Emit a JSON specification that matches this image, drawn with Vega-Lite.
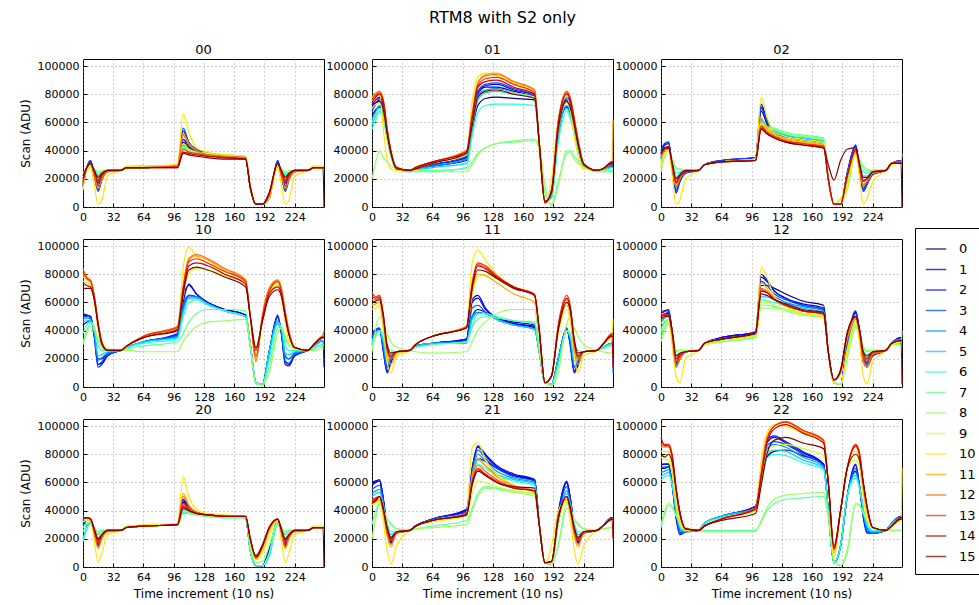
{
"$schema":"https://vega.github.io/schema/vega-lite/v6.json",
"title":{"text":"RTM8 with S2 only","fontSize":16,"offset":18,"anchor":"middle"},
"padding":{"left":18,"top":9,"right":5,"bottom":5},
"data":{"values":[
{"p":"00","t":0,"0":18,"1":16,"2":15,"3":14,"4":18,"5":20,"6":22,"7":22,"8":24,"9":18,"10":12,"11":16,"12":16,"13":18,"14":20,"15":22},
{"p":"00","t":4,"0":28,"1":28,"2":28,"3":28,"4":28,"5":28,"6":27,"7":27,"8":27,"9":28,"10":26,"11":28,"12":28,"13":28,"14":28,"15":28},
{"p":"00","t":8,"0":31,"1":32,"2":33,"3":33,"4":31,"5":30,"6":30,"7":30,"8":29,"9":30,"10":28,"11":31,"12":31,"13":31,"14":31,"15":31},
{"p":"00","t":12,"0":24,"1":24,"2":22,"3":22,"4":25,"5":26,"6":26,"7":27,"8":27,"9":25,"10":15,"11":22,"12":22,"13":24,"14":25,"15":26},
{"p":"00","t":16,"0":17,"1":15,"2":12,"3":11,"4":19,"5":22,"6":23,"7":24,"8":25,"9":20,"10":2,"11":13,"12":13,"13":18,"14":19,"15":21},
{"p":"00","t":20,"0":22,"1":21,"2":20,"3":19,"4":23,"5":24,"6":25,"7":25,"8":26,"9":23,"10":5,"11":20,"12":20,"13":22,"14":23,"15":24},
{"p":"00","t":26,"0":26,"1":26,"2":25,"3":25,"4":26,"5":26,"6":26,"7":26,"8":26,"9":26,"10":22,"11":25,"12":25,"13":26,"14":26,"15":26},
{"p":"00","t":40,"0":26,"1":26,"2":26,"3":26,"4":26,"5":26,"6":26,"7":26,"8":26,"9":26,"10":26,"11":26,"12":26,"13":26,"14":26,"15":26},
{"p":"00","t":46,"0":28,"1":28,"2":28,"3":28,"4":28,"5":28,"6":28,"7":28,"8":28,"9":28,"10":29,"11":28,"12":28,"13":28,"14":28,"15":28},
{"p":"00","t":64,"0":28,"1":28,"2":28,"3":28,"4":28,"5":29,"6":29,"7":29,"8":29,"9":29,"10":29,"11":28,"12":28,"13":28,"14":28,"15":28},
{"p":"00","t":100,"0":29,"1":29,"2":29,"3":29,"4":29,"5":29,"6":29,"7":29,"8":29,"9":29,"10":30,"11":29,"12":29,"13":29,"14":28,"15":28},
{"p":"00","t":106,"0":46,"1":48,"2":54,"3":56,"4":44,"5":44,"6":43,"7":42,"8":42,"9":45,"10":66,"11":52,"12":51,"13":41,"14":39,"15":38},
{"p":"00","t":112,"0":42,"1":43,"2":45,"3":46,"4":41,"5":41,"6":40,"7":40,"8":40,"9":41,"10":53,"11":45,"12":44,"13":39,"14":38,"15":37},
{"p":"00","t":120,"0":39,"1":39,"2":40,"3":41,"4":39,"5":39,"6":38,"7":38,"8":38,"9":39,"10":42,"11":40,"12":40,"13":38,"14":37,"15":36},
{"p":"00","t":132,"0":37,"1":37,"2":38,"3":38,"4":37,"5":38,"6":38,"7":38,"8":38,"9":38,"10":39,"11":37,"12":37,"13":36,"14":36,"15":35},
{"p":"00","t":150,"0":36,"1":36,"2":36,"3":36,"4":36,"5":37,"6":37,"7":37,"8":37,"9":37,"10":37,"11":36,"12":36,"13":35,"14":35,"15":34},
{"p":"00","t":172,"0":35,"1":35,"2":35,"3":35,"4":35,"5":36,"6":36,"7":36,"8":36,"9":36,"10":36,"11":35,"12":35,"13":34,"14":34,"15":34},
{"p":"00","t":177,"0":14,"1":14,"2":14,"3":14,"4":14,"5":15,"6":15,"7":15,"8":15,"9":15,"10":15,"11":14,"12":14,"13":14,"14":14,"15":14},
{"p":"00","t":183,"0":2,"1":2,"2":2,"3":2,"4":2,"5":2,"6":2,"7":2,"8":2,"9":2,"10":2,"11":2,"12":2,"13":2,"14":2,"15":2},
{"p":"00","t":190,"0":2,"1":2,"2":2,"3":2,"4":2,"5":2,"6":2,"7":2,"8":2,"9":2,"10":2,"11":2,"12":2,"13":2,"14":2,"15":2},
{"p":"00","t":197,"0":8,"1":7,"2":6,"3":6,"4":8,"5":8,"6":8,"7":8,"8":8,"9":8,"10":6,"11":8,"12":8,"13":9,"14":10,"15":10},
{"p":"00","t":206,"0":31,"1":32,"2":33,"3":33,"4":31,"5":30,"6":30,"7":30,"8":29,"9":30,"10":28,"11":31,"12":31,"13":31,"14":31,"15":31},
{"p":"00","t":210,"0":24,"1":24,"2":22,"3":22,"4":25,"5":26,"6":26,"7":27,"8":27,"9":25,"10":15,"11":22,"12":22,"13":24,"14":25,"15":26},
{"p":"00","t":214,"0":17,"1":15,"2":12,"3":11,"4":19,"5":22,"6":23,"7":24,"8":25,"9":20,"10":2,"11":13,"12":13,"13":18,"14":19,"15":21},
{"p":"00","t":218,"0":22,"1":21,"2":20,"3":19,"4":23,"5":24,"6":25,"7":25,"8":26,"9":23,"10":5,"11":20,"12":20,"13":22,"14":23,"15":24},
{"p":"00","t":224,"0":26,"1":26,"2":25,"3":25,"4":26,"5":26,"6":26,"7":26,"8":26,"9":26,"10":22,"11":25,"12":25,"13":26,"14":26,"15":26},
{"p":"00","t":238,"0":26,"1":26,"2":26,"3":26,"4":26,"5":26,"6":26,"7":26,"8":26,"9":26,"10":26,"11":26,"12":26,"13":26,"14":26,"15":26},
{"p":"00","t":244,"0":28,"1":28,"2":28,"3":28,"4":28,"5":28,"6":28,"7":28,"8":28,"9":28,"10":29,"11":28,"12":28,"13":28,"14":28,"15":28},
{"p":"00","t":254,"0":28,"1":28,"2":28,"3":28,"4":28,"5":28,"6":28,"7":28,"8":28,"9":28,"10":29,"11":28,"12":28,"13":28,"14":28,"15":28},
{"p":"00","t":255,"0":28,"1":28,"2":28,"3":28,"4":28,"5":28,"6":28,"7":28,"8":28,"9":28,"10":29,"11":28,"12":28,"13":28,"14":28,"15":0},
{"p":"01","t":0,"0":65,"1":70,"2":72,"3":68,"4":62,"5":58,"6":55,"7":60,"8":20,"9":70,"10":75,"11":78,"12":77,"13":76,"14":74,"15":72},
{"p":"01","t":4,"0":69,"1":74,"2":76,"3":73,"4":68,"5":65,"6":62,"7":66,"8":32,"9":73,"10":79,"11":81,"12":80,"13":79,"14":78,"15":74},
{"p":"01","t":8,"0":71,"1":76,"2":78,"3":77,"4":72,"5":70,"6":68,"7":70,"8":40,"9":74,"10":80,"11":82,"12":82,"13":81,"14":80,"15":75},
{"p":"01","t":12,"0":65,"1":70,"2":72,"3":71,"4":66,"5":64,"6":62,"7":64,"8":35,"9":68,"10":55,"11":76,"12":76,"13":75,"14":74,"15":69},
{"p":"01","t":16,"0":50,"1":53,"2":54,"3":54,"4":51,"5":49,"6":48,"7":49,"8":32,"9":52,"10":34,"11":56,"12":56,"13":55,"14":54,"15":52},
{"p":"01","t":20,"0":37,"1":38,"2":39,"3":39,"4":38,"5":37,"6":36,"7":37,"8":29,"9":38,"10":27,"11":40,"12":40,"13":40,"14":39,"15":38},
{"p":"01","t":26,"0":27,"1":27,"2":27,"3":27,"4":27,"5":27,"6":27,"7":27,"8":27,"9":27,"10":26,"11":28,"12":28,"13":28,"14":28,"15":27},
{"p":"01","t":40,"0":26,"1":26,"2":26,"3":26,"4":26,"5":25,"6":25,"7":26,"8":26,"9":26,"10":26,"11":26,"12":26,"13":26,"14":26,"15":26},
{"p":"01","t":46,"0":27,"1":27,"2":27,"3":27,"4":27,"5":26,"6":25,"7":26,"8":26,"9":27,"10":27,"11":28,"12":28,"13":28,"14":28,"15":27},
{"p":"01","t":64,"0":29,"1":30,"2":30,"3":30,"4":29,"5":28,"6":25,"7":26,"8":25,"9":31,"10":31,"11":32,"12":32,"13":32,"14":32,"15":31},
{"p":"01","t":100,"0":33,"1":35,"2":36,"3":36,"4":34,"5":31,"6":28,"7":27,"8":25,"9":37,"10":38,"11":40,"12":40,"13":39,"14":39,"15":38},
{"p":"01","t":106,"0":55,"1":60,"2":62,"3":62,"4":58,"5":55,"6":50,"7":32,"8":30,"9":60,"10":75,"11":66,"12":66,"13":64,"14":63,"15":58},
{"p":"01","t":112,"0":72,"1":80,"2":82,"3":82,"4":79,"5":76,"6":67,"7":38,"8":37,"9":78,"10":92,"11":88,"12":88,"13":86,"14":85,"15":78},
{"p":"01","t":120,"0":77,"1":85,"2":86,"3":87,"4":83,"5":81,"6":72,"7":42,"8":42,"9":82,"10":95,"11":94,"12":93,"13":91,"14":89,"15":82},
{"p":"01","t":132,"0":78,"1":85,"2":87,"3":88,"4":84,"5":82,"6":73,"7":45,"8":45,"9":83,"10":93,"11":95,"12":94,"13":92,"14":90,"15":83},
{"p":"01","t":150,"0":77,"1":82,"2":83,"3":84,"4":81,"5":80,"6":73,"7":46,"8":47,"9":81,"10":88,"11":89,"12":89,"13":87,"14":85,"15":80},
{"p":"01","t":172,"0":76,"1":78,"2":79,"3":79,"4":78,"5":77,"6":72,"7":47,"8":48,"9":78,"10":82,"11":83,"12":83,"13":81,"14":80,"15":77},
{"p":"01","t":177,"0":45,"1":45,"2":45,"3":45,"4":45,"5":45,"6":45,"7":40,"8":44,"9":45,"10":40,"11":45,"12":45,"13":45,"14":45,"15":45},
{"p":"01","t":183,"0":4,"1":4,"2":4,"3":4,"4":4,"5":4,"6":4,"7":10,"8":15,"9":4,"10":3,"11":3,"12":3,"13":3,"14":3,"15":4},
{"p":"01","t":190,"0":8,"1":8,"2":8,"3":8,"4":8,"5":8,"6":6,"7":2,"8":1,"9":10,"10":20,"11":12,"12":12,"13":12,"14":12,"15":10},
{"p":"01","t":197,"0":50,"1":55,"2":55,"3":55,"4":52,"5":50,"6":45,"7":18,"8":15,"9":55,"10":62,"11":60,"12":60,"13":60,"14":58,"15":55},
{"p":"01","t":206,"0":71,"1":76,"2":78,"3":77,"4":72,"5":70,"6":68,"7":38,"8":40,"9":74,"10":78,"11":82,"12":82,"13":81,"14":80,"15":75},
{"p":"01","t":210,"0":66,"1":71,"2":73,"3":72,"4":67,"5":65,"6":62,"7":40,"8":38,"9":69,"10":68,"11":77,"12":77,"13":76,"14":75,"15":70},
{"p":"01","t":214,"0":55,"1":58,"2":60,"3":59,"4":56,"5":54,"6":52,"7":36,"8":34,"9":57,"10":50,"11":63,"12":63,"13":62,"14":61,"15":58},
{"p":"01","t":218,"0":42,"1":44,"2":45,"3":45,"4":43,"5":42,"6":41,"7":33,"8":31,"9":44,"10":36,"11":48,"12":48,"13":47,"14":46,"15":44},
{"p":"01","t":224,"0":29,"1":30,"2":30,"3":30,"4":29,"5":29,"6":29,"7":29,"8":28,"9":30,"10":27,"11":31,"12":31,"13":31,"14":30,"15":30},
{"p":"01","t":238,"0":26,"1":26,"2":26,"3":26,"4":26,"5":26,"6":25,"7":26,"8":26,"9":26,"10":26,"11":26,"12":26,"13":26,"14":26,"15":26},
{"p":"01","t":244,"0":27,"1":27,"2":27,"3":27,"4":27,"5":26,"6":25,"7":26,"8":26,"9":27,"10":27,"11":27,"12":27,"13":27,"14":27,"15":27},
{"p":"01","t":254,"0":29,"1":30,"2":30,"3":30,"4":29,"5":28,"6":25,"7":26,"8":25,"9":31,"10":31,"11":32,"12":32,"13":32,"14":32,"15":31},
{"p":"01","t":255,"0":29,"1":30,"2":30,"3":30,"4":29,"5":28,"6":25,"7":26,"8":25,"9":31,"10":31,"11":62,"12":32,"13":32,"14":32,"15":31},
{"p":"02","t":0,"0":35,"1":38,"2":40,"3":40,"4":35,"5":32,"6":30,"7":28,"8":25,"9":30,"10":28,"11":35,"12":36,"13":37,"14":38,"15":38},
{"p":"02","t":4,"0":42,"1":44,"2":45,"3":45,"4":42,"5":40,"6":38,"7":37,"8":36,"9":38,"10":38,"11":41,"12":41,"13":41,"14":42,"15":42},
{"p":"02","t":8,"0":42,"1":45,"2":46,"3":46,"4":42,"5":41,"6":40,"7":40,"8":40,"9":40,"10":40,"11":42,"12":42,"13":42,"14":43,"15":42},
{"p":"02","t":12,"0":28,"1":28,"2":28,"3":28,"4":30,"5":31,"6":32,"7":34,"8":34,"9":30,"10":21,"11":28,"12":28,"13":30,"14":30,"15":31},
{"p":"02","t":16,"0":14,"1":12,"2":10,"3":11,"4":17,"5":21,"6":24,"7":27,"8":28,"9":20,"10":2,"11":14,"12":15,"13":17,"14":18,"15":20},
{"p":"02","t":20,"0":20,"1":19,"2":18,"3":18,"4":22,"5":24,"6":25,"7":27,"8":27,"9":23,"10":5,"11":20,"12":20,"13":22,"14":22,"15":23},
{"p":"02","t":26,"0":25,"1":25,"2":24,"3":24,"4":25,"5":26,"6":26,"7":26,"8":26,"9":25,"10":20,"11":25,"12":25,"13":25,"14":25,"15":26},
{"p":"02","t":40,"0":26,"1":26,"2":26,"3":26,"4":26,"5":26,"6":26,"7":26,"8":26,"9":26,"10":26,"11":26,"12":26,"13":26,"14":26,"15":26},
{"p":"02","t":46,"0":30,"1":30,"2":30,"3":30,"4":30,"5":30,"6":30,"7":30,"8":30,"9":30,"10":30,"11":30,"12":30,"13":30,"14":30,"15":30},
{"p":"02","t":64,"0":32,"1":33,"2":33,"3":33,"4":32,"5":32,"6":32,"7":32,"8":32,"9":32,"10":32,"11":32,"12":32,"13":32,"14":32,"15":32},
{"p":"02","t":100,"0":34,"1":35,"2":35,"3":35,"4":34,"5":34,"6":34,"7":34,"8":34,"9":34,"10":34,"11":33,"12":33,"13":33,"14":33,"15":33},
{"p":"02","t":106,"0":68,"1":71,"2":73,"3":70,"4":62,"5":61,"6":60,"7":58,"8":57,"9":59,"10":78,"11":63,"12":58,"13":57,"14":56,"15":55},
{"p":"02","t":112,"0":59,"1":61,"2":62,"3":61,"4":57,"5":57,"6":57,"7":57,"8":56,"9":56,"10":64,"11":56,"12":54,"13":53,"14":52,"15":52},
{"p":"02","t":120,"0":52,"1":53,"2":53,"3":53,"4":53,"5":54,"6":55,"7":56,"8":55,"9":53,"10":52,"11":51,"12":50,"13":50,"14":49,"15":49},
{"p":"02","t":132,"0":49,"1":50,"2":50,"3":50,"4":50,"5":51,"6":52,"7":53,"8":52,"9":50,"10":49,"11":48,"12":47,"13":47,"14":46,"15":46},
{"p":"02","t":150,"0":47,"1":48,"2":48,"3":48,"4":48,"5":49,"6":50,"7":51,"8":50,"9":48,"10":47,"11":46,"12":45,"13":45,"14":44,"15":44},
{"p":"02","t":172,"0":45,"1":46,"2":46,"3":46,"4":46,"5":47,"6":48,"7":49,"8":48,"9":46,"10":45,"11":44,"12":43,"13":43,"14":42,"15":42},
{"p":"02","t":177,"0":20,"1":20,"2":20,"3":20,"4":20,"5":20,"6":20,"7":20,"8":20,"9":20,"10":20,"11":20,"12":20,"13":20,"14":20,"15":30},
{"p":"02","t":183,"0":2,"1":2,"2":2,"3":2,"4":2,"5":2,"6":2,"7":2,"8":2,"9":2,"10":2,"11":2,"12":2,"13":2,"14":2,"15":19},
{"p":"02","t":190,"0":2,"1":2,"2":2,"3":2,"4":2,"5":2,"6":2,"7":2,"8":6,"9":6,"10":2,"11":2,"12":2,"13":2,"14":2,"15":33},
{"p":"02","t":197,"0":22,"1":24,"2":24,"3":24,"4":22,"5":20,"6":18,"7":14,"8":12,"9":16,"10":14,"11":22,"12":22,"13":22,"14":22,"15":41},
{"p":"02","t":206,"0":40,"1":43,"2":44,"3":44,"4":40,"5":39,"6":38,"7":38,"8":38,"9":38,"10":38,"11":40,"12":40,"13":40,"14":41,"15":42},
{"p":"02","t":210,"0":28,"1":28,"2":28,"3":28,"4":30,"5":31,"6":32,"7":34,"8":34,"9":30,"10":21,"11":28,"12":28,"13":30,"14":30,"15":31},
{"p":"02","t":214,"0":15,"1":13,"2":11,"3":12,"4":18,"5":22,"6":25,"7":28,"8":29,"9":21,"10":2,"11":15,"12":16,"13":18,"14":19,"15":21},
{"p":"02","t":218,"0":18,"1":17,"2":16,"3":16,"4":20,"5":22,"6":24,"7":26,"8":27,"9":21,"10":6,"11":18,"12":18,"13":20,"14":20,"15":21},
{"p":"02","t":224,"0":24,"1":24,"2":23,"3":23,"4":25,"5":25,"6":26,"7":26,"8":26,"9":25,"10":18,"11":24,"12":24,"13":25,"14":25,"15":25},
{"p":"02","t":238,"0":26,"1":26,"2":26,"3":26,"4":26,"5":26,"6":26,"7":26,"8":26,"9":26,"10":26,"11":26,"12":26,"13":26,"14":26,"15":26},
{"p":"02","t":244,"0":31,"1":31,"2":31,"3":31,"4":31,"5":31,"6":30,"7":30,"8":30,"9":30,"10":30,"11":31,"12":31,"13":31,"14":31,"15":31},
{"p":"02","t":254,"0":32,"1":33,"2":33,"3":33,"4":32,"5":32,"6":32,"7":32,"8":32,"9":32,"10":32,"11":32,"12":32,"13":32,"14":31,"15":31},
{"p":"02","t":255,"0":32,"1":33,"2":33,"3":33,"4":32,"5":32,"6":32,"7":32,"8":38,"9":32,"10":32,"11":32,"12":32,"13":32,"14":31,"15":0},
{"p":"10","t":0,"0":44,"1":50,"2":52,"3":50,"4":48,"5":46,"6":38,"7":32,"8":30,"9":75,"10":78,"11":80,"12":84,"13":82,"14":74,"15":70},
{"p":"10","t":4,"0":46,"1":51,"2":51,"3":50,"4":49,"5":47,"6":44,"7":40,"8":38,"9":74,"10":76,"11":77,"12":78,"13":77,"14":72,"15":70},
{"p":"10","t":8,"0":47,"1":50,"2":50,"3":49,"4":48,"5":47,"6":46,"7":45,"8":43,"9":72,"10":74,"11":75,"12":76,"13":75,"14":71,"15":70},
{"p":"10","t":12,"0":38,"1":36,"2":35,"3":36,"4":38,"5":40,"6":42,"7":42,"8":40,"9":62,"10":60,"11":64,"12":65,"13":64,"14":62,"15":62},
{"p":"10","t":16,"0":20,"1":16,"2":14,"3":16,"4":19,"5":22,"6":30,"7":33,"8":34,"9":44,"10":40,"11":45,"12":46,"13":45,"14":44,"15":44},
{"p":"10","t":20,"0":20,"1":17,"2":16,"3":18,"4":21,"5":23,"6":26,"7":28,"8":30,"9":31,"10":28,"11":32,"12":32,"13":31,"14":30,"15":31},
{"p":"10","t":26,"0":24,"1":23,"2":22,"3":23,"4":24,"5":25,"6":26,"7":26,"8":27,"9":26,"10":26,"11":26,"12":26,"13":26,"14":26,"15":26},
{"p":"10","t":40,"0":26,"1":26,"2":26,"3":26,"4":26,"5":26,"6":26,"7":26,"8":26,"9":26,"10":26,"11":26,"12":26,"13":26,"14":26,"15":26},
{"p":"10","t":46,"0":28,"1":28,"2":28,"3":28,"4":28,"5":28,"6":28,"7":27,"8":26,"9":29,"10":29,"11":29,"12":29,"13":29,"14":29,"15":29},
{"p":"10","t":64,"0":32,"1":32,"2":32,"3":32,"4":32,"5":32,"6":31,"7":29,"8":25,"9":35,"10":36,"11":36,"12":36,"13":36,"14":35,"15":35},
{"p":"10","t":100,"0":36,"1":37,"2":38,"3":37,"4":36,"5":35,"6":34,"7":32,"8":25,"9":40,"10":42,"11":43,"12":43,"13":42,"14":41,"15":40},
{"p":"10","t":106,"0":55,"1":60,"2":65,"3":58,"4":55,"5":53,"6":50,"7":38,"8":32,"9":65,"10":85,"11":70,"12":72,"13":70,"14":68,"15":66},
{"p":"10","t":112,"0":65,"1":73,"2":72,"3":65,"4":64,"5":63,"6":60,"7":46,"8":38,"9":80,"10":99,"11":90,"12":91,"13":89,"14":86,"15":83},
{"p":"10","t":120,"0":64,"1":66,"2":66,"3":64,"4":64,"5":63,"6":62,"7":52,"8":43,"9":84,"10":93,"11":93,"12":94,"13":91,"14":88,"15":85},
{"p":"10","t":132,"0":60,"1":60,"2":60,"3":59,"4":59,"5":59,"6":58,"7":55,"8":46,"9":83,"10":88,"11":90,"12":91,"13":88,"14":86,"15":83},
{"p":"10","t":150,"0":55,"1":55,"2":55,"3":54,"4":54,"5":54,"6":54,"7":55,"8":47,"9":79,"10":80,"11":83,"12":84,"13":82,"14":80,"15":78},
{"p":"10","t":172,"0":51,"1":51,"2":51,"3":50,"4":50,"5":50,"6":50,"7":54,"8":48,"9":74,"10":74,"11":75,"12":76,"13":75,"14":73,"15":71},
{"p":"10","t":177,"0":30,"1":30,"2":30,"3":30,"4":30,"5":30,"6":28,"7":30,"8":30,"9":50,"10":50,"11":50,"12":50,"13":50,"14":50,"15":50},
{"p":"10","t":183,"0":3,"1":3,"2":3,"3":3,"4":3,"5":3,"6":2,"7":3,"8":3,"9":28,"10":22,"11":20,"12":18,"13":22,"14":26,"15":28},
{"p":"10","t":190,"0":2,"1":2,"2":2,"3":2,"4":2,"5":2,"6":2,"7":2,"8":1,"9":50,"10":48,"11":50,"12":52,"13":50,"14":48,"15":47},
{"p":"10","t":197,"0":25,"1":25,"2":25,"3":25,"4":25,"5":25,"6":20,"7":15,"8":10,"9":66,"10":66,"11":68,"12":70,"13":68,"14":66,"15":64},
{"p":"10","t":206,"0":45,"1":50,"2":51,"3":49,"4":47,"5":46,"6":45,"7":42,"8":38,"9":72,"10":74,"11":75,"12":76,"13":75,"14":71,"15":69},
{"p":"10","t":210,"0":40,"1":38,"2":37,"3":38,"4":40,"5":41,"6":42,"7":43,"8":42,"9":66,"10":64,"11":68,"12":70,"13":68,"14":66,"15":64},
{"p":"10","t":214,"0":22,"1":18,"2":16,"3":18,"4":21,"5":24,"6":30,"7":34,"8":36,"9":52,"10":46,"11":52,"12":54,"13":52,"14":50,"15":50},
{"p":"10","t":218,"0":20,"1":16,"2":15,"3":17,"4":20,"5":23,"6":26,"7":29,"8":31,"9":38,"10":32,"11":38,"12":40,"13":38,"14":37,"15":37},
{"p":"10","t":224,"0":24,"1":23,"2":22,"3":23,"4":24,"5":25,"6":26,"7":27,"8":28,"9":28,"10":27,"11":28,"12":28,"13":28,"14":28,"15":28},
{"p":"10","t":238,"0":26,"1":26,"2":26,"3":26,"4":26,"5":26,"6":26,"7":26,"8":26,"9":26,"10":26,"11":26,"12":26,"13":26,"14":26,"15":26},
{"p":"10","t":244,"0":29,"1":29,"2":29,"3":29,"4":29,"5":29,"6":28,"7":27,"8":26,"9":30,"10":30,"11":30,"12":30,"13":30,"14":30,"15":30},
{"p":"10","t":254,"0":33,"1":33,"2":33,"3":33,"4":33,"5":33,"6":30,"7":29,"8":27,"9":35,"10":35,"11":36,"12":37,"13":36,"14":35,"15":35},
{"p":"10","t":255,"0":33,"1":33,"2":14,"3":33,"4":33,"5":33,"6":30,"7":29,"8":27,"9":35,"10":35,"11":36,"12":40,"13":36,"14":35,"15":35},
{"p":"11","t":0,"0":30,"1":35,"2":38,"3":36,"4":33,"5":32,"6":30,"7":28,"8":25,"9":58,"10":55,"11":58,"12":62,"13":67,"14":64,"15":60},
{"p":"11","t":4,"0":38,"1":40,"2":41,"3":40,"4":39,"5":38,"6":38,"7":36,"8":42,"9":58,"10":56,"11":59,"12":62,"13":64,"14":63,"15":61},
{"p":"11","t":8,"0":40,"1":41,"2":42,"3":41,"4":40,"5":40,"6":40,"7":40,"8":50,"9":58,"10":57,"11":60,"12":63,"13":65,"14":64,"15":62},
{"p":"11","t":12,"0":30,"1":26,"2":25,"3":27,"4":30,"5":32,"6":35,"7":38,"8":45,"9":45,"10":40,"11":46,"12":50,"13":52,"14":50,"15":50},
{"p":"11","t":16,"0":14,"1":11,"2":10,"3":12,"4":15,"5":18,"6":24,"7":30,"8":38,"9":28,"10":18,"11":22,"12":26,"13":28,"14":28,"15":30},
{"p":"11","t":20,"0":20,"1":18,"2":17,"3":19,"4":21,"5":23,"6":24,"7":26,"8":32,"9":22,"10":10,"11":16,"12":20,"13":21,"14":22,"15":24},
{"p":"11","t":26,"0":25,"1":25,"2":25,"3":25,"4":25,"5":25,"6":25,"7":25,"8":28,"9":25,"10":22,"11":24,"12":25,"13":25,"14":25,"15":25},
{"p":"11","t":40,"0":26,"1":26,"2":26,"3":26,"4":26,"5":26,"6":26,"7":26,"8":26,"9":26,"10":26,"11":26,"12":26,"13":26,"14":26,"15":26},
{"p":"11","t":46,"0":29,"1":29,"2":29,"3":29,"4":29,"5":29,"6":28,"7":28,"8":25,"9":30,"10":30,"11":30,"12":30,"13":30,"14":30,"15":30},
{"p":"11","t":64,"0":31,"1":31,"2":31,"3":31,"4":31,"5":31,"6":30,"7":30,"8":24,"9":36,"10":36,"11":36,"12":36,"13":36,"14":36,"15":36},
{"p":"11","t":100,"0":33,"1":34,"2":34,"3":33,"4":32,"5":31,"6":32,"7":32,"8":25,"9":42,"10":43,"11":42,"12":43,"13":42,"14":42,"15":42},
{"p":"11","t":106,"0":50,"1":60,"2":62,"3":56,"4":50,"5":48,"6":44,"7":42,"8":32,"9":65,"10":88,"11":68,"12":72,"13":74,"14":72,"15":70},
{"p":"11","t":112,"0":55,"1":63,"2":65,"3":58,"4":53,"5":52,"6":52,"7":48,"8":40,"9":78,"10":97,"11":80,"12":87,"13":88,"14":86,"15":83},
{"p":"11","t":120,"0":53,"1":55,"2":56,"3":53,"4":52,"5":52,"6":52,"7":50,"8":46,"9":80,"10":90,"11":79,"12":85,"13":86,"14":84,"15":82},
{"p":"11","t":132,"0":49,"1":49,"2":49,"3":48,"4":48,"5":48,"6":50,"7":49,"8":52,"9":77,"10":80,"11":74,"12":78,"13":79,"14":78,"15":77},
{"p":"11","t":150,"0":46,"1":45,"2":45,"3":44,"4":44,"5":44,"6":47,"7":47,"8":55,"9":71,"10":71,"11":66,"12":71,"13":71,"14":71,"15":70},
{"p":"11","t":172,"0":44,"1":43,"2":42,"3":41,"4":41,"5":41,"6":45,"7":46,"8":55,"9":65,"10":65,"11":60,"12":65,"13":66,"14":65,"15":65},
{"p":"11","t":177,"0":25,"1":25,"2":25,"3":25,"4":25,"5":25,"6":25,"7":25,"8":30,"9":40,"10":40,"11":40,"12":40,"13":40,"14":40,"15":40},
{"p":"11","t":183,"0":3,"1":3,"2":3,"3":3,"4":3,"5":3,"6":3,"7":3,"8":3,"9":3,"10":3,"11":3,"12":3,"13":3,"14":3,"15":3},
{"p":"11","t":190,"0":2,"1":2,"2":2,"3":2,"4":2,"5":2,"6":2,"7":2,"8":1,"9":8,"10":8,"11":8,"12":8,"13":8,"14":8,"15":8},
{"p":"11","t":197,"0":20,"1":20,"2":20,"3":20,"4":20,"5":20,"6":15,"7":15,"8":10,"9":40,"10":38,"11":40,"12":42,"13":44,"14":42,"15":40},
{"p":"11","t":206,"0":40,"1":41,"2":42,"3":41,"4":40,"5":40,"6":40,"7":40,"8":45,"9":58,"10":55,"11":58,"12":62,"13":65,"14":63,"15":60},
{"p":"11","t":210,"0":33,"1":30,"2":28,"3":30,"4":33,"5":35,"6":36,"7":38,"8":50,"9":52,"10":45,"11":50,"12":55,"13":57,"14":55,"15":54},
{"p":"11","t":214,"0":14,"1":11,"2":10,"3":12,"4":15,"5":18,"6":24,"7":30,"8":42,"9":30,"10":22,"11":26,"12":30,"13":32,"14":32,"15":34},
{"p":"11","t":218,"0":18,"1":16,"2":15,"3":17,"4":19,"5":22,"6":23,"7":26,"8":36,"9":22,"10":10,"11":16,"12":20,"13":21,"14":22,"15":24},
{"p":"11","t":224,"0":25,"1":25,"2":25,"3":25,"4":25,"5":25,"6":25,"7":25,"8":30,"9":25,"10":22,"11":25,"12":25,"13":25,"14":25,"15":25},
{"p":"11","t":238,"0":26,"1":26,"2":26,"3":26,"4":26,"5":26,"6":26,"7":26,"8":26,"9":26,"10":26,"11":26,"12":26,"13":26,"14":26,"15":26},
{"p":"11","t":244,"0":28,"1":28,"2":28,"3":28,"4":28,"5":28,"6":28,"7":27,"8":25,"9":30,"10":30,"11":30,"12":30,"13":30,"14":30,"15":30},
{"p":"11","t":254,"0":31,"1":31,"2":31,"3":31,"4":31,"5":31,"6":30,"7":29,"8":24,"9":36,"10":36,"11":36,"12":37,"13":38,"14":37,"15":36},
{"p":"11","t":255,"0":31,"1":31,"2":31,"3":31,"4":10,"5":31,"6":30,"7":29,"8":24,"9":36,"10":48,"11":36,"12":37,"13":38,"14":14,"15":36},
{"p":"12","t":0,"0":50,"1":52,"2":53,"3":50,"4":46,"5":42,"6":38,"7":35,"8":32,"9":40,"10":45,"11":48,"12":52,"13":55,"14":50,"15":48},
{"p":"12","t":4,"0":52,"1":54,"2":54,"3":52,"4":49,"5":46,"6":44,"7":42,"8":40,"9":44,"10":47,"11":50,"12":51,"13":52,"14":51,"15":50},
{"p":"12","t":8,"0":52,"1":54,"2":55,"3":53,"4":50,"5":48,"6":46,"7":45,"8":44,"9":46,"10":48,"11":50,"12":51,"13":51,"14":51,"15":50},
{"p":"12","t":12,"0":38,"1":38,"2":38,"3":38,"4":38,"5":38,"6":38,"7":38,"8":38,"9":36,"10":28,"11":35,"12":36,"13":38,"14":39,"15":39},
{"p":"12","t":16,"0":17,"1":15,"2":14,"3":16,"4":19,"5":21,"6":23,"7":25,"8":26,"9":20,"10":8,"11":14,"12":15,"13":18,"14":20,"15":22},
{"p":"12","t":20,"0":22,"1":20,"2":20,"3":21,"4":22,"5":24,"6":24,"7":26,"8":26,"9":23,"10":3,"11":20,"12":20,"13":22,"14":23,"15":24},
{"p":"12","t":26,"0":25,"1":25,"2":25,"3":25,"4":25,"5":25,"6":26,"7":26,"8":26,"9":25,"10":20,"11":25,"12":25,"13":25,"14":25,"15":25},
{"p":"12","t":40,"0":26,"1":26,"2":26,"3":26,"4":26,"5":26,"6":26,"7":26,"8":26,"9":26,"10":26,"11":26,"12":26,"13":26,"14":26,"15":26},
{"p":"12","t":46,"0":31,"1":31,"2":31,"3":31,"4":31,"5":31,"6":30,"7":30,"8":30,"9":30,"10":31,"11":31,"12":31,"13":31,"14":31,"15":31},
{"p":"12","t":64,"0":35,"1":35,"2":35,"3":34,"4":34,"5":34,"6":33,"7":32,"8":32,"9":33,"10":34,"11":34,"12":34,"13":34,"14":34,"15":34},
{"p":"12","t":100,"0":39,"1":39,"2":39,"3":38,"4":38,"5":37,"6":36,"7":35,"8":35,"9":36,"10":37,"11":38,"12":38,"13":38,"14":38,"15":38},
{"p":"12","t":106,"0":72,"1":78,"2":80,"3":75,"4":68,"5":64,"6":62,"7":58,"8":56,"9":60,"10":85,"11":74,"12":70,"13":69,"14":68,"15":66},
{"p":"12","t":112,"0":72,"1":75,"2":76,"3":72,"4":67,"5":64,"6":61,"7":58,"8":56,"9":60,"10":78,"11":70,"12":68,"13":67,"14":67,"15":65},
{"p":"12","t":120,"0":70,"1":68,"2":68,"3":66,"4":64,"5":62,"6":60,"7":57,"8":56,"9":58,"10":64,"11":63,"12":62,"13":62,"14":62,"15":62},
{"p":"12","t":132,"0":66,"1":63,"2":63,"3":62,"4":60,"5":59,"6":57,"7":55,"8":54,"9":55,"10":57,"11":58,"12":58,"13":58,"14":58,"15":59},
{"p":"12","t":150,"0":61,"1":59,"2":58,"3":58,"4":57,"5":56,"6":54,"7":52,"8":51,"9":52,"10":52,"11":54,"12":54,"13":54,"14":54,"15":55},
{"p":"12","t":172,"0":58,"1":56,"2":55,"3":55,"4":54,"5":53,"6":52,"7":50,"8":49,"9":50,"10":49,"11":51,"12":52,"13":52,"14":52,"15":53},
{"p":"12","t":177,"0":25,"1":25,"2":25,"3":25,"4":25,"5":25,"6":25,"7":25,"8":25,"9":25,"10":25,"11":25,"12":25,"13":25,"14":25,"15":25},
{"p":"12","t":183,"0":3,"1":3,"2":3,"3":3,"4":3,"5":3,"6":3,"7":3,"8":3,"9":3,"10":3,"11":5,"12":5,"13":5,"14":5,"15":5},
{"p":"12","t":190,"0":2,"1":2,"2":2,"3":2,"4":2,"5":2,"6":2,"7":2,"8":2,"9":2,"10":2,"11":10,"12":10,"13":12,"14":12,"15":12},
{"p":"12","t":197,"0":30,"1":32,"2":32,"3":30,"4":28,"5":26,"6":24,"7":22,"8":20,"9":24,"10":26,"11":34,"12":36,"13":38,"14":38,"15":38},
{"p":"12","t":206,"0":50,"1":53,"2":54,"3":52,"4":49,"5":46,"6":44,"7":43,"8":42,"9":44,"10":46,"11":48,"12":49,"13":50,"14":50,"15":50},
{"p":"12","t":210,"0":40,"1":40,"2":40,"3":40,"4":40,"5":40,"6":40,"7":40,"8":40,"9":38,"10":32,"11":37,"12":38,"13":40,"14":41,"15":41},
{"p":"12","t":214,"0":21,"1":19,"2":18,"3":20,"4":22,"5":24,"6":26,"7":28,"8":29,"9":23,"10":8,"11":18,"12":19,"13":22,"14":24,"15":25},
{"p":"12","t":218,"0":17,"1":15,"2":14,"3":16,"4":19,"5":21,"6":23,"7":25,"8":26,"9":20,"10":2,"11":14,"12":15,"13":18,"14":20,"15":22},
{"p":"12","t":224,"0":24,"1":23,"2":22,"3":23,"4":24,"5":25,"6":25,"7":26,"8":26,"9":24,"10":18,"11":23,"12":23,"13":24,"14":25,"15":25},
{"p":"12","t":238,"0":26,"1":26,"2":26,"3":26,"4":26,"5":26,"6":26,"7":26,"8":26,"9":26,"10":26,"11":26,"12":26,"13":26,"14":26,"15":26},
{"p":"12","t":244,"0":31,"1":31,"2":31,"3":31,"4":31,"5":30,"6":30,"7":30,"8":30,"9":30,"10":31,"11":31,"12":31,"13":31,"14":31,"15":31},
{"p":"12","t":254,"0":35,"1":35,"2":35,"3":34,"4":34,"5":33,"6":32,"7":31,"8":30,"9":32,"10":33,"11":33,"12":33,"13":33,"14":33,"15":33},
{"p":"12","t":255,"0":35,"1":35,"2":35,"3":34,"4":34,"5":33,"6":32,"7":31,"8":40,"9":32,"10":33,"11":33,"12":33,"13":33,"14":2,"15":33},
{"p":"20","t":0,"0":30,"1":32,"2":33,"3":34,"4":30,"5":20,"6":18,"7":25,"8":28,"9":32,"10":34,"11":35,"12":35,"13":35,"14":34,"15":34},
{"p":"20","t":4,"0":33,"1":30,"2":29,"3":30,"4":30,"5":28,"6":27,"7":30,"8":31,"9":33,"10":34,"11":35,"12":35,"13":35,"14":35,"15":35},
{"p":"20","t":8,"0":33,"1":32,"2":32,"3":32,"4":32,"5":31,"6":31,"7":32,"8":32,"9":33,"10":33,"11":34,"12":34,"13":34,"14":34,"15":34},
{"p":"20","t":12,"0":25,"1":24,"2":24,"3":25,"4":26,"5":27,"6":28,"7":28,"8":28,"9":27,"10":18,"11":24,"12":24,"13":26,"14":26,"15":27},
{"p":"20","t":16,"0":17,"1":15,"2":16,"3":18,"4":20,"5":23,"6":25,"7":25,"8":24,"9":21,"10":3,"11":13,"12":14,"13":17,"14":19,"15":20},
{"p":"20","t":20,"0":22,"1":21,"2":22,"3":22,"4":23,"5":25,"6":26,"7":26,"8":25,"9":23,"10":10,"11":20,"12":21,"13":22,"14":23,"15":23},
{"p":"20","t":26,"0":26,"1":26,"2":26,"3":26,"4":26,"5":26,"6":26,"7":26,"8":26,"9":26,"10":23,"11":25,"12":25,"13":26,"14":26,"15":26},
{"p":"20","t":40,"0":26,"1":26,"2":26,"3":26,"4":26,"5":26,"6":26,"7":26,"8":26,"9":26,"10":26,"11":26,"12":26,"13":26,"14":26,"15":26},
{"p":"20","t":46,"0":28,"1":28,"2":28,"3":28,"4":28,"5":28,"6":28,"7":28,"8":28,"9":28,"10":29,"11":28,"12":28,"13":28,"14":28,"15":28},
{"p":"20","t":64,"0":29,"1":29,"2":29,"3":29,"4":29,"5":29,"6":29,"7":29,"8":29,"9":29,"10":30,"11":29,"12":29,"13":29,"14":29,"15":29},
{"p":"20","t":100,"0":30,"1":30,"2":30,"3":30,"4":30,"5":30,"6":30,"7":30,"8":30,"9":30,"10":31,"11":30,"12":30,"13":30,"14":30,"15":30},
{"p":"20","t":106,"0":46,"1":48,"2":47,"3":44,"4":41,"5":39,"6":38,"7":39,"8":40,"9":44,"10":64,"11":52,"12":50,"13":45,"14":43,"15":42},
{"p":"20","t":112,"0":42,"1":42,"2":42,"3":41,"4":39,"5":38,"6":38,"7":38,"8":39,"9":41,"10":50,"11":44,"12":43,"13":41,"14":40,"15":40},
{"p":"20","t":120,"0":38,"1":39,"2":38,"3":38,"4":38,"5":37,"6":37,"7":37,"8":37,"9":38,"10":41,"11":39,"12":39,"13":38,"14":38,"15":38},
{"p":"20","t":132,"0":37,"1":37,"2":37,"3":37,"4":36,"5":36,"6":36,"7":36,"8":36,"9":37,"10":38,"11":37,"12":37,"13":37,"14":37,"15":37},
{"p":"20","t":150,"0":36,"1":36,"2":36,"3":36,"4":36,"5":35,"6":35,"7":35,"8":35,"9":36,"10":37,"11":36,"12":36,"13":36,"14":36,"15":36},
{"p":"20","t":172,"0":35,"1":35,"2":35,"3":35,"4":35,"5":35,"6":35,"7":35,"8":35,"9":36,"10":36,"11":36,"12":36,"13":36,"14":36,"15":36},
{"p":"20","t":177,"0":12,"1":12,"2":12,"3":12,"4":12,"5":12,"6":12,"7":12,"8":15,"9":18,"10":20,"11":20,"12":20,"13":20,"14":20,"15":20},
{"p":"20","t":183,"0":1,"1":1,"2":1,"3":1,"4":1,"5":1,"6":1,"7":1,"8":3,"9":5,"10":6,"11":6,"12":6,"13":7,"14":7,"15":8},
{"p":"20","t":190,"0":1,"1":1,"2":1,"3":1,"4":1,"5":1,"6":1,"7":1,"8":4,"9":10,"10":12,"11":14,"12":14,"13":15,"14":15,"15":16},
{"p":"20","t":197,"0":12,"1":12,"2":12,"3":10,"4":8,"5":8,"6":8,"7":10,"8":15,"9":22,"10":25,"11":26,"12":27,"13":28,"14":28,"15":28},
{"p":"20","t":206,"0":33,"1":32,"2":32,"3":32,"4":32,"5":31,"6":31,"7":32,"8":32,"9":33,"10":33,"11":34,"12":34,"13":34,"14":34,"15":34},
{"p":"20","t":210,"0":25,"1":24,"2":24,"3":25,"4":26,"5":27,"6":28,"7":28,"8":28,"9":27,"10":18,"11":24,"12":24,"13":26,"14":26,"15":27},
{"p":"20","t":214,"0":17,"1":15,"2":16,"3":18,"4":20,"5":23,"6":25,"7":25,"8":24,"9":21,"10":3,"11":13,"12":14,"13":17,"14":19,"15":20},
{"p":"20","t":218,"0":22,"1":21,"2":22,"3":22,"4":23,"5":25,"6":26,"7":26,"8":25,"9":23,"10":10,"11":20,"12":21,"13":22,"14":23,"15":23},
{"p":"20","t":224,"0":26,"1":26,"2":26,"3":26,"4":26,"5":26,"6":26,"7":26,"8":26,"9":26,"10":23,"11":25,"12":25,"13":26,"14":26,"15":26},
{"p":"20","t":238,"0":26,"1":26,"2":26,"3":26,"4":26,"5":26,"6":26,"7":26,"8":26,"9":26,"10":26,"11":26,"12":26,"13":26,"14":26,"15":26},
{"p":"20","t":244,"0":28,"1":28,"2":28,"3":28,"4":28,"5":28,"6":28,"7":28,"8":28,"9":28,"10":29,"11":28,"12":28,"13":28,"14":28,"15":28},
{"p":"20","t":254,"0":28,"1":28,"2":28,"3":28,"4":28,"5":28,"6":28,"7":28,"8":28,"9":28,"10":29,"11":28,"12":28,"13":28,"14":28,"15":28},
{"p":"20","t":255,"0":28,"1":28,"2":28,"3":28,"4":28,"5":28,"6":28,"7":28,"8":28,"9":28,"10":29,"11":28,"12":28,"13":28,"14":28,"15":0},
{"p":"21","t":0,"0":58,"1":60,"2":60,"3":55,"4":52,"5":50,"6":45,"7":30,"8":20,"9":44,"10":45,"11":46,"12":48,"13":47,"14":46,"15":45},
{"p":"21","t":4,"0":60,"1":61,"2":61,"3":57,"4":54,"5":52,"6":48,"7":40,"8":35,"9":45,"10":46,"11":47,"12":49,"13":49,"14":48,"15":47},
{"p":"21","t":8,"0":61,"1":62,"2":61,"3":58,"4":55,"5":53,"6":50,"7":45,"8":45,"9":46,"10":47,"11":48,"12":50,"13":50,"14":50,"15":50},
{"p":"21","t":12,"0":48,"1":48,"2":48,"3":46,"4":45,"5":44,"6":42,"7":41,"8":40,"9":38,"10":32,"11":38,"12":40,"13":41,"14":41,"15":41},
{"p":"21","t":16,"0":28,"1":28,"2":28,"3":28,"4":29,"5":30,"6":31,"7":34,"8":34,"9":27,"10":12,"11":22,"12":24,"13":27,"14":27,"15":28},
{"p":"21","t":20,"0":18,"1":17,"2":17,"3":19,"4":21,"5":23,"6":25,"7":31,"8":30,"9":21,"10":2,"11":14,"12":16,"13":19,"14":20,"15":21},
{"p":"21","t":26,"0":24,"1":24,"2":24,"3":24,"4":25,"5":25,"6":25,"7":27,"8":27,"9":25,"10":15,"11":24,"12":24,"13":25,"14":25,"15":25},
{"p":"21","t":40,"0":26,"1":26,"2":26,"3":26,"4":26,"5":26,"6":26,"7":26,"8":26,"9":26,"10":26,"11":26,"12":26,"13":26,"14":26,"15":26},
{"p":"21","t":46,"0":29,"1":29,"2":29,"3":29,"4":29,"5":29,"6":29,"7":27,"8":27,"9":29,"10":29,"11":29,"12":29,"13":29,"14":29,"15":29},
{"p":"21","t":64,"0":34,"1":34,"2":34,"3":34,"4":33,"5":33,"6":33,"7":29,"8":28,"9":32,"10":33,"11":33,"12":33,"13":33,"14":33,"15":33},
{"p":"21","t":100,"0":40,"1":41,"2":40,"3":39,"4":38,"5":37,"6":36,"7":33,"8":30,"9":36,"10":38,"11":38,"12":38,"13":38,"14":37,"15":37},
{"p":"21","t":106,"0":62,"1":70,"2":70,"3":68,"4":65,"5":62,"6":60,"7":42,"8":40,"9":52,"10":85,"11":65,"12":62,"13":60,"14":60,"15":58},
{"p":"21","t":112,"0":77,"1":86,"2":85,"3":83,"4":80,"5":76,"6":73,"7":52,"8":50,"9":61,"10":88,"11":77,"12":72,"13":70,"14":69,"15":68},
{"p":"21","t":120,"0":75,"1":80,"2":79,"3":77,"4":75,"5":72,"6":70,"7":57,"8":56,"9":60,"10":76,"11":72,"12":68,"13":66,"14":65,"15":65},
{"p":"21","t":132,"0":70,"1":72,"2":71,"3":70,"4":68,"5":66,"6":65,"7":56,"8":55,"9":57,"10":66,"11":64,"12":62,"13":61,"14":60,"15":60},
{"p":"21","t":150,"0":65,"1":66,"2":65,"3":64,"4":63,"5":62,"6":61,"7":54,"8":53,"9":54,"10":58,"11":58,"12":57,"13":56,"14":56,"15":57},
{"p":"21","t":172,"0":61,"1":62,"2":62,"3":61,"4":60,"5":59,"6":58,"7":52,"8":50,"9":51,"10":52,"11":53,"12":54,"13":54,"14":54,"15":56},
{"p":"21","t":177,"0":30,"1":30,"2":30,"3":30,"4":30,"5":30,"6":30,"7":30,"8":30,"9":30,"10":30,"11":30,"12":30,"13":30,"14":30,"15":30},
{"p":"21","t":183,"0":3,"1":3,"2":3,"3":3,"4":3,"5":3,"6":3,"7":3,"8":3,"9":3,"10":3,"11":3,"12":3,"13":3,"14":3,"15":3},
{"p":"21","t":190,"0":2,"1":2,"2":2,"3":2,"4":2,"5":2,"6":2,"7":2,"8":2,"9":2,"10":15,"11":4,"12":4,"13":4,"14":4,"15":4},
{"p":"21","t":197,"0":35,"1":38,"2":38,"3":36,"4":34,"5":32,"6":30,"7":15,"8":15,"9":32,"10":40,"11":36,"12":35,"13":34,"14":34,"15":34},
{"p":"21","t":206,"0":60,"1":61,"2":60,"3":57,"4":54,"5":52,"6":50,"7":42,"8":45,"9":46,"10":47,"11":48,"12":50,"13":50,"14":50,"15":50},
{"p":"21","t":210,"0":48,"1":48,"2":48,"3":46,"4":45,"5":44,"6":42,"7":41,"8":40,"9":38,"10":32,"11":38,"12":40,"13":41,"14":41,"15":41},
{"p":"21","t":214,"0":28,"1":28,"2":28,"3":28,"4":29,"5":30,"6":31,"7":34,"8":34,"9":27,"10":12,"11":22,"12":24,"13":27,"14":27,"15":28},
{"p":"21","t":218,"0":18,"1":17,"2":17,"3":19,"4":21,"5":23,"6":25,"7":31,"8":30,"9":21,"10":2,"11":14,"12":16,"13":19,"14":20,"15":21},
{"p":"21","t":224,"0":24,"1":24,"2":24,"3":24,"4":25,"5":25,"6":25,"7":27,"8":27,"9":25,"10":15,"11":24,"12":24,"13":25,"14":25,"15":25},
{"p":"21","t":238,"0":26,"1":26,"2":26,"3":26,"4":26,"5":26,"6":26,"7":26,"8":26,"9":26,"10":26,"11":26,"12":26,"13":26,"14":26,"15":26},
{"p":"21","t":244,"0":29,"1":29,"2":29,"3":29,"4":29,"5":29,"6":29,"7":27,"8":27,"9":29,"10":29,"11":29,"12":29,"13":29,"14":29,"15":29},
{"p":"21","t":254,"0":35,"1":35,"2":35,"3":35,"4":34,"5":34,"6":33,"7":28,"8":28,"9":33,"10":34,"11":34,"12":34,"13":34,"14":34,"15":34},
{"p":"21","t":255,"0":35,"1":35,"2":35,"3":35,"4":34,"5":34,"6":33,"7":28,"8":28,"9":33,"10":34,"11":34,"12":34,"13":34,"14":20,"15":34},
{"p":"22","t":0,"0":70,"1":72,"2":73,"3":70,"4":67,"5":64,"6":62,"7":28,"8":30,"9":78,"10":82,"11":85,"12":86,"13":88,"14":92,"15":80},
{"p":"22","t":4,"0":70,"1":73,"2":73,"3":71,"4":68,"5":66,"6":64,"7":38,"8":40,"9":76,"10":82,"11":85,"12":86,"13":87,"14":86,"15":78},
{"p":"22","t":8,"0":71,"1":73,"2":73,"3":71,"4":69,"5":67,"6":65,"7":44,"8":45,"9":76,"10":82,"11":85,"12":87,"13":87,"14":86,"15":80},
{"p":"22","t":12,"0":60,"1":58,"2":57,"3":57,"4":58,"5":58,"6":58,"7":42,"8":43,"9":65,"10":68,"11":75,"12":78,"13":79,"14":78,"15":74},
{"p":"22","t":16,"0":40,"1":36,"2":34,"3":36,"4":38,"5":40,"6":42,"7":36,"8":37,"9":45,"10":45,"11":52,"12":55,"13":56,"14":56,"15":55},
{"p":"22","t":20,"0":26,"1":24,"2":23,"3":24,"4":26,"5":28,"6":30,"7":32,"8":32,"9":33,"10":30,"11":36,"12":38,"13":39,"14":39,"15":38},
{"p":"22","t":26,"0":25,"1":25,"2":25,"3":25,"4":25,"5":25,"6":26,"7":28,"8":28,"9":27,"10":26,"11":27,"12":27,"13":27,"14":27,"15":27},
{"p":"22","t":40,"0":26,"1":26,"2":26,"3":26,"4":26,"5":26,"6":26,"7":26,"8":26,"9":26,"10":26,"11":26,"12":26,"13":26,"14":26,"15":26},
{"p":"22","t":46,"0":31,"1":31,"2":31,"3":31,"4":31,"5":31,"6":31,"7":26,"8":25,"9":29,"10":29,"11":29,"12":29,"13":29,"14":29,"15":29},
{"p":"22","t":64,"0":36,"1":36,"2":36,"3":36,"4":36,"5":36,"6":35,"7":26,"8":25,"9":34,"10":34,"11":34,"12":34,"13":34,"14":34,"15":33},
{"p":"22","t":100,"0":41,"1":43,"2":43,"3":42,"4":42,"5":41,"6":40,"7":26,"8":25,"9":40,"10":41,"11":42,"12":42,"13":42,"14":41,"15":38},
{"p":"22","t":106,"0":60,"1":65,"2":66,"3":64,"4":62,"5":60,"6":58,"7":32,"8":33,"9":60,"10":75,"11":68,"12":66,"13":65,"14":64,"15":58},
{"p":"22","t":112,"0":78,"1":88,"2":90,"3":86,"4":84,"5":80,"6":77,"7":40,"8":42,"9":80,"10":95,"11":92,"12":90,"13":90,"14":88,"15":80},
{"p":"22","t":120,"0":82,"1":92,"2":93,"3":89,"4":87,"5":83,"6":80,"7":45,"8":48,"9":86,"10":101,"11":100,"12":100,"13":100,"14":98,"15":90},
{"p":"22","t":132,"0":83,"1":88,"2":89,"3":87,"4":85,"5":82,"6":79,"7":48,"8":51,"9":87,"10":100,"11":103,"12":103,"13":103,"14":101,"15":92},
{"p":"22","t":150,"0":79,"1":81,"2":82,"3":80,"4":78,"5":76,"6":74,"7":49,"8":52,"9":84,"10":95,"11":96,"12":97,"13":97,"14":95,"15":88},
{"p":"22","t":172,"0":73,"1":73,"2":73,"3":72,"4":71,"5":70,"6":69,"7":50,"8":53,"9":79,"10":88,"11":89,"12":90,"13":90,"14":88,"15":84},
{"p":"22","t":177,"0":40,"1":40,"2":40,"3":40,"4":40,"5":40,"6":40,"7":35,"8":38,"9":60,"10":60,"11":60,"12":60,"13":60,"14":60,"15":60},
{"p":"22","t":183,"0":3,"1":3,"2":3,"3":3,"4":3,"5":3,"6":3,"7":5,"8":4,"9":8,"10":6,"11":10,"12":12,"13":14,"14":15,"15":13},
{"p":"22","t":190,"0":15,"1":15,"2":15,"3":15,"4":15,"5":15,"6":15,"7":1,"8":1,"9":40,"10":40,"11":40,"12":40,"13":40,"14":40,"15":40},
{"p":"22","t":197,"0":50,"1":50,"2":50,"3":50,"4":50,"5":50,"6":50,"7":10,"8":12,"9":70,"10":70,"11":70,"12":70,"13":70,"14":70,"15":70},
{"p":"22","t":206,"0":68,"1":72,"2":73,"3":70,"4":67,"5":65,"6":63,"7":45,"8":45,"9":76,"10":82,"11":85,"12":87,"13":87,"14":86,"15":80},
{"p":"22","t":210,"0":58,"1":58,"2":57,"3":57,"4":57,"5":57,"6":56,"7":44,"8":44,"9":70,"10":74,"11":78,"12":80,"13":81,"14":80,"15":76},
{"p":"22","t":214,"0":40,"1":37,"2":35,"3":37,"4":39,"5":41,"6":42,"7":38,"8":38,"9":52,"10":50,"11":56,"12":58,"13":60,"14":60,"15":60},
{"p":"22","t":218,"0":28,"1":25,"2":24,"3":25,"4":27,"5":29,"6":31,"7":33,"8":33,"9":38,"10":34,"11":40,"12":42,"13":43,"14":43,"15":43},
{"p":"22","t":224,"0":24,"1":24,"2":24,"3":24,"4":24,"5":25,"6":26,"7":28,"8":28,"9":28,"10":28,"11":28,"12":28,"13":28,"14":28,"15":28},
{"p":"22","t":238,"0":26,"1":26,"2":26,"3":26,"4":26,"5":26,"6":26,"7":26,"8":26,"9":26,"10":26,"11":26,"12":26,"13":26,"14":26,"15":26},
{"p":"22","t":244,"0":31,"1":31,"2":31,"3":31,"4":31,"5":31,"6":30,"7":26,"8":26,"9":29,"10":29,"11":29,"12":29,"13":29,"14":29,"15":29},
{"p":"22","t":254,"0":36,"1":36,"2":36,"3":36,"4":35,"5":35,"6":34,"7":26,"8":26,"9":33,"10":34,"11":35,"12":35,"13":35,"14":35,"15":34},
{"p":"22","t":255,"0":36,"1":36,"2":36,"3":36,"4":35,"5":35,"6":34,"7":26,"8":26,"9":33,"10":70,"11":35,"12":35,"13":35,"14":35,"15":34}
]},
"transform":[{"fold":["0","1","2","3","4","5","6","7","8","9","10","11","12","13","14","15"],"as":["ch","v"]}],
"vconcat":[
{"hconcat":[
{"title":{"text":"00","fontSize":13,"offset":2},"width":241,"height":148,"transform":[{"filter":"datum.p==='00'"}],"mark":{"type":"line","interpolate":"monotone","strokeWidth":1.2},"encoding":{"x":{"field":"t","type":"quantitative","scale":{"domain":[0,255],"nice":false},"axis":{"title":null,"values":[0,32,64,96,128,160,192,224]}},"y":{"field":"v","type":"quantitative","scale":{"domain":[0,105],"nice":false},"axis":{"title":"Scan (ADU)","values":[0,20,40,60,80,100],"labelExpr":"format(datum.value*1000,'d')"}},"color":{"field":"ch","type":"nominal","title":null,"scale":{"domain":["0","1","2","3","4","5","6","7","8","9","10","11","12","13","14","15"],"range":["#000080","#0000cd","#0008ff","#004dff","#0091ff","#00d4ff","#29ffce","#60ff97","#97ff60","#ceff29","#ffe600","#ffa700","#ff6800","#ff2900","#cd0000","#800000"]},"legend":{"orient":"none","legendX":832,"legendY":169}}}},
{"title":{"text":"01","fontSize":13,"offset":2},"width":241,"height":148,"transform":[{"filter":"datum.p==='01'"}],"mark":{"type":"line","interpolate":"monotone","strokeWidth":1.2},"encoding":{"x":{"field":"t","type":"quantitative","scale":{"domain":[0,255],"nice":false},"axis":{"title":null,"values":[0,32,64,96,128,160,192,224]}},"y":{"field":"v","type":"quantitative","scale":{"domain":[0,105],"nice":false},"axis":{"title":null,"values":[0,20,40,60,80,100],"labelExpr":"format(datum.value*1000,'d')"}},"color":{"field":"ch","type":"nominal","title":null,"scale":{"domain":["0","1","2","3","4","5","6","7","8","9","10","11","12","13","14","15"],"range":["#000080","#0000cd","#0008ff","#004dff","#0091ff","#00d4ff","#29ffce","#60ff97","#97ff60","#ceff29","#ffe600","#ffa700","#ff6800","#ff2900","#cd0000","#800000"]},"legend":{"orient":"none","legendX":832,"legendY":169}}}},
{"title":{"text":"02","fontSize":13,"offset":2},"width":241,"height":148,"transform":[{"filter":"datum.p==='02'"}],"mark":{"type":"line","interpolate":"monotone","strokeWidth":1.2},"encoding":{"x":{"field":"t","type":"quantitative","scale":{"domain":[0,255],"nice":false},"axis":{"title":null,"values":[0,32,64,96,128,160,192,224]}},"y":{"field":"v","type":"quantitative","scale":{"domain":[0,105],"nice":false},"axis":{"title":null,"values":[0,20,40,60,80,100],"labelExpr":"format(datum.value*1000,'d')"}},"color":{"field":"ch","type":"nominal","title":null,"scale":{"domain":["0","1","2","3","4","5","6","7","8","9","10","11","12","13","14","15"],"range":["#000080","#0000cd","#0008ff","#004dff","#0091ff","#00d4ff","#29ffce","#60ff97","#97ff60","#ceff29","#ffe600","#ffa700","#ff6800","#ff2900","#cd0000","#800000"]},"legend":{"orient":"none","legendX":832,"legendY":169}}}}
],"spacing":48,"bounds":"flush"},
{"hconcat":[
{"title":{"text":"10","fontSize":13,"offset":2},"width":241,"height":148,"transform":[{"filter":"datum.p==='10'"}],"mark":{"type":"line","interpolate":"monotone","strokeWidth":1.2},"encoding":{"x":{"field":"t","type":"quantitative","scale":{"domain":[0,255],"nice":false},"axis":{"title":null,"values":[0,32,64,96,128,160,192,224]}},"y":{"field":"v","type":"quantitative","scale":{"domain":[0,105],"nice":false},"axis":{"title":"Scan (ADU)","values":[0,20,40,60,80,100],"labelExpr":"format(datum.value*1000,'d')"}},"color":{"field":"ch","type":"nominal","title":null,"scale":{"domain":["0","1","2","3","4","5","6","7","8","9","10","11","12","13","14","15"],"range":["#000080","#0000cd","#0008ff","#004dff","#0091ff","#00d4ff","#29ffce","#60ff97","#97ff60","#ceff29","#ffe600","#ffa700","#ff6800","#ff2900","#cd0000","#800000"]},"legend":{"orient":"none","legendX":832,"legendY":169}}}},
{"title":{"text":"11","fontSize":13,"offset":2},"width":241,"height":148,"transform":[{"filter":"datum.p==='11'"}],"mark":{"type":"line","interpolate":"monotone","strokeWidth":1.2},"encoding":{"x":{"field":"t","type":"quantitative","scale":{"domain":[0,255],"nice":false},"axis":{"title":null,"values":[0,32,64,96,128,160,192,224]}},"y":{"field":"v","type":"quantitative","scale":{"domain":[0,105],"nice":false},"axis":{"title":null,"values":[0,20,40,60,80,100],"labelExpr":"format(datum.value*1000,'d')"}},"color":{"field":"ch","type":"nominal","title":null,"scale":{"domain":["0","1","2","3","4","5","6","7","8","9","10","11","12","13","14","15"],"range":["#000080","#0000cd","#0008ff","#004dff","#0091ff","#00d4ff","#29ffce","#60ff97","#97ff60","#ceff29","#ffe600","#ffa700","#ff6800","#ff2900","#cd0000","#800000"]},"legend":{"orient":"none","legendX":832,"legendY":169}}}},
{"title":{"text":"12","fontSize":13,"offset":2},"width":241,"height":148,"transform":[{"filter":"datum.p==='12'"}],"mark":{"type":"line","interpolate":"monotone","strokeWidth":1.2},"encoding":{"x":{"field":"t","type":"quantitative","scale":{"domain":[0,255],"nice":false},"axis":{"title":null,"values":[0,32,64,96,128,160,192,224]}},"y":{"field":"v","type":"quantitative","scale":{"domain":[0,105],"nice":false},"axis":{"title":null,"values":[0,20,40,60,80,100],"labelExpr":"format(datum.value*1000,'d')"}},"color":{"field":"ch","type":"nominal","title":null,"scale":{"domain":["0","1","2","3","4","5","6","7","8","9","10","11","12","13","14","15"],"range":["#000080","#0000cd","#0008ff","#004dff","#0091ff","#00d4ff","#29ffce","#60ff97","#97ff60","#ceff29","#ffe600","#ffa700","#ff6800","#ff2900","#cd0000","#800000"]},"legend":{"orient":"none","legendX":832,"legendY":169}}}}
],"spacing":48,"bounds":"flush"},
{"hconcat":[
{"title":{"text":"20","fontSize":13,"offset":2},"width":241,"height":148,"transform":[{"filter":"datum.p==='20'"}],"mark":{"type":"line","interpolate":"monotone","strokeWidth":1.2},"encoding":{"x":{"field":"t","type":"quantitative","scale":{"domain":[0,255],"nice":false},"axis":{"title":"Time increment (10 ns)","values":[0,32,64,96,128,160,192,224]}},"y":{"field":"v","type":"quantitative","scale":{"domain":[0,105],"nice":false},"axis":{"title":"Scan (ADU)","values":[0,20,40,60,80,100],"labelExpr":"format(datum.value*1000,'d')"}},"color":{"field":"ch","type":"nominal","title":null,"scale":{"domain":["0","1","2","3","4","5","6","7","8","9","10","11","12","13","14","15"],"range":["#000080","#0000cd","#0008ff","#004dff","#0091ff","#00d4ff","#29ffce","#60ff97","#97ff60","#ceff29","#ffe600","#ffa700","#ff6800","#ff2900","#cd0000","#800000"]},"legend":{"orient":"none","legendX":832,"legendY":169}}}},
{"title":{"text":"21","fontSize":13,"offset":2},"width":241,"height":148,"transform":[{"filter":"datum.p==='21'"}],"mark":{"type":"line","interpolate":"monotone","strokeWidth":1.2},"encoding":{"x":{"field":"t","type":"quantitative","scale":{"domain":[0,255],"nice":false},"axis":{"title":"Time increment (10 ns)","values":[0,32,64,96,128,160,192,224]}},"y":{"field":"v","type":"quantitative","scale":{"domain":[0,105],"nice":false},"axis":{"title":null,"values":[0,20,40,60,80,100],"labelExpr":"format(datum.value*1000,'d')"}},"color":{"field":"ch","type":"nominal","title":null,"scale":{"domain":["0","1","2","3","4","5","6","7","8","9","10","11","12","13","14","15"],"range":["#000080","#0000cd","#0008ff","#004dff","#0091ff","#00d4ff","#29ffce","#60ff97","#97ff60","#ceff29","#ffe600","#ffa700","#ff6800","#ff2900","#cd0000","#800000"]},"legend":{"orient":"none","legendX":832,"legendY":169}}}},
{"title":{"text":"22","fontSize":13,"offset":2},"width":241,"height":148,"transform":[{"filter":"datum.p==='22'"}],"mark":{"type":"line","interpolate":"monotone","strokeWidth":1.2},"encoding":{"x":{"field":"t","type":"quantitative","scale":{"domain":[0,255],"nice":false},"axis":{"title":"Time increment (10 ns)","values":[0,32,64,96,128,160,192,224]}},"y":{"field":"v","type":"quantitative","scale":{"domain":[0,105],"nice":false},"axis":{"title":null,"values":[0,20,40,60,80,100],"labelExpr":"format(datum.value*1000,'d')"}},"color":{"field":"ch","type":"nominal","title":null,"scale":{"domain":["0","1","2","3","4","5","6","7","8","9","10","11","12","13","14","15"],"range":["#000080","#0000cd","#0008ff","#004dff","#0091ff","#00d4ff","#29ffce","#60ff97","#97ff60","#ceff29","#ffe600","#ffa700","#ff6800","#ff2900","#cd0000","#800000"]},"legend":{"orient":"none","legendX":832,"legendY":169}}}}
],"spacing":48,"bounds":"flush"}
],
"spacing":180,
"bounds":"flush",
"config":{
"font":"DejaVu Sans",
"view":{"stroke":"black","strokeWidth":1},
"axis":{"grid":true,"gridColor":"#808080","gridDash":[1,3],"gridWidth":0.8,"domain":false,"ticks":true,"tickSize":-4,"tickColor":"#000","tickWidth":1,"labelPadding":8,"labelFontSize":11,"labelColor":"#000","titleFontSize":12,"titleFontWeight":"normal","titleColor":"#000","labelFlush":false,"labelOverlap":false},
"axisY":{"titlePadding":5},
"axisX":{"titlePadding":6},
"legend":{"strokeColor":"black","padding":10,"symbolType":"stroke","symbolSize":420,"symbolStrokeWidth":1.5,"labelFontSize":13,"labelOffset":12,"rowPadding":2.5,"labelColor":"#000","symbolOpacity":0.75},
"title":{"fontWeight":"normal","color":"#000"}
}
}
